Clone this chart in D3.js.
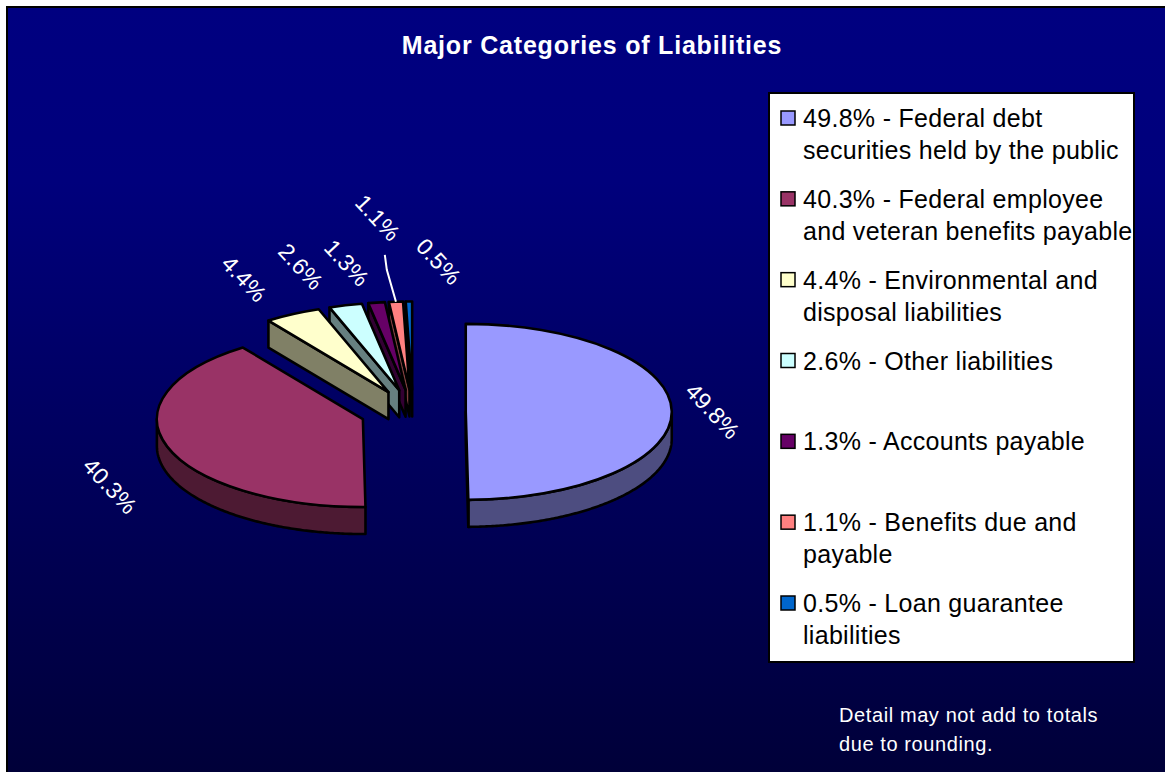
<!DOCTYPE html>
<html>
<head>
<meta charset="utf-8">
<script src="https://cdn.jsdelivr.net/npm/d3@7"></script>
<style>
  html, body { margin: 0; padding: 0; background: #fff; overflow: hidden; }
  text { font-family: "Liberation Sans", Arial, sans-serif; }
</style>
</head>
<body>
<svg id="chart" width="1165" height="772"></svg>
<script>
// data
const categories = ["Federal debt securities held by the public", "Federal employee and veteran benefits payable",
    "Environmental and disposal liabilities", "Other liabilities", "Accounts payable",
    "Benefits due and payable", "Loan guarantee liabilities"]
const percents = [49.8, 40.3, 4.4, 2.6, 1.3, 1.1, 0.5]
const legendLines = [
    ["49.8% - Federal debt", "securities held by the public"],
    ["40.3% - Federal employee", "and veteran benefits payable"],
    ["4.4% - Environmental and", "disposal liabilities"],
    ["2.6% - Other liabilities"],
    ["1.3% - Accounts payable"],
    ["1.1% - Benefits due and", "payable"],
    ["0.5% - Loan guarantee", "liabilities"]
]
const titleText = "Major Categories of Liabilities"
const noteLines = ["Detail may not add to totals", "due to rounding."]

const topColors = ["#9999ff", "#993366", "#ffffcc", "#ccffff", "#660066", "#ff8080", "#0066cc"]
const sideColors = ["#4d4d80", "#4d1a33", "#808066", "#668080", "#330033", "#804040", "#003366"]

const svg = d3.select("#chart")
const W = 1165, H = 772

const defs = svg.append("defs")
const grad = defs.append("linearGradient")
    .attr("id", "bg").attr("x1", 0).attr("y1", 0).attr("x2", 0).attr("y2", 1)
grad.append("stop").attr("offset", 0).attr("stop-color", "#000080")
grad.append("stop").attr("offset", 0.22).attr("stop-color", "#00007c")
grad.append("stop").attr("offset", 1).attr("stop-color", "#000036")

svg.append("rect")
    .attr("x", 7).attr("y", 7)
    .attr("width", W + 20).attr("height", H + 20)
    .attr("fill", "url(#bg)")
    .attr("stroke", "black")
    .attr("stroke-width", 2)

svg.append("text")
    .attr("x", 592).attr("y", 54)
    .attr("text-anchor", "middle")
    .attr("fill", "white")
    .style("font-size", "25px")
    .style("font-weight", "bold")
    .style("letter-spacing", "0.8px")
    .text(titleText)

// 3d pie
const cx0 = 413, cy0 = 412, rx = 206, ry = 88, depth = 27, explode = 0.256
const topColor = d3.scaleOrdinal().domain(categories).range(topColors)
const sideColor = d3.scaleOrdinal().domain(categories).range(sideColors)

const arcs = d3.pie().sort(null).value(d => d.v)(percents.map((v, i) => ({v: v, name: categories[i]})))

function center(d) {
    let m = (d.startAngle + d.endAngle) / 2
    return [cx0 + explode * rx * Math.sin(m), cy0 - explode * ry * Math.cos(m)]
}
function pt(c, a, dy) {
    return [c[0] + rx * Math.sin(a), c[1] - ry * Math.cos(a) + (dy || 0)]
}

const arcGen = d3.arc().innerRadius(0).outerRadius(rx)
const line = d3.line()

let pieG = svg.append("g").attr("class", "pie")

arcs.slice().sort((a, b) => center(a)[1] - center(b)[1])
    .forEach(d => {
        let c = center(d)
        let g = pieG.append("g")
        let sty = sel => sel.attr("stroke", "black").attr("stroke-width", 2.6).attr("stroke-linejoin", "round")

        // outer wall, front half only
        let a0 = Math.max(d.startAngle, Math.PI / 2), a1 = Math.min(d.endAngle, Math.PI * 1.5)
        if (a1 > a0) {
            let steps = d3.range(a0, a1, 0.01).concat([a1])
            let pts = steps.map(a => pt(c, a)).concat(steps.slice().reverse().map(a => pt(c, a, depth)))
            g.append("path")
                .attr("d", line(pts) + "Z")
                .attr("fill", sideColor(d.data.name))
                .call(sty)
        }
        // cut faces
        ;[[d.startAngle, Math.sin(d.startAngle) < -1e-6], [d.endAngle, Math.sin(d.endAngle) > 1e-6]]
            .forEach(([a, vis]) => {
                if (!vis) return
                let o = pt(c, a)
                g.append("path")
                    .attr("d", line([c, o, [o[0], o[1] + depth], [c[0], c[1] + depth]]) + "Z")
                    .attr("fill", sideColor(d.data.name))
                    .call(sty)
            })
        // top face
        g.append("path")
            .attr("d", arcGen(d))
            .attr("transform", "translate(" + c + ") scale(1," + (ry / rx) + ")")
            .attr("vector-effect", "non-scaling-stroke")
            .attr("fill", topColor(d.data.name))
            .call(sty)
    })

// data labels
const labels = arcs.map(d => {
    let m = (d.startAngle + d.endAngle) / 2, s = Math.sin(m), co = Math.cos(m)
    let c = center(d)
    return {
        d: d, m: m, c: c, raised: false,
        x: c[0] + (rx + 18) * s + (s < 0 ? -40 : 23),
        y: c[1] - (ry + 40) * co + (co < 0 ? depth : 0)
    }
})
// spread the crowded labels at the back
let crowd = labels.filter(l => l.y < cy0 - ry).sort((a, b) => a.x - b.x)
let prev = -Infinity, prevRaised = false
crowd.forEach(l => {
    let nx = Math.max(l.x, prev + 46)
    if (nx - l.x > 30 && !prevRaised) {
        l.raised = true
        l.x = nx - 15
        l.y -= 44
    } else {
        l.x = nx
    }
    prevRaised = l.raised
    prev = nx
})

labels.filter(l => l.raised).forEach(l => {
    let e = pt(l.c, l.m)
    svg.append("path")
        .attr("d", line([[l.x + 7, l.y + 37], [l.x + 9, l.y + 52], e]))
        .attr("fill", "none")
        .attr("stroke", "white")
        .attr("stroke-width", 2)
})

svg.append("g").selectAll("text")
    .data(labels)
    .enter().append("text")
    .attr("transform", l => "translate(" + l.x + "," + l.y + ") rotate(47)")
    .attr("text-anchor", "middle")
    .attr("dy", "0.35em")
    .attr("fill", "white")
    .style("font-size", "23px")
    .style("letter-spacing", "0.3px")
    .text(l => l.d.data.v.toFixed(1) + "%")

// legend
svg.append("rect")
    .attr("x", 769).attr("y", 93)
    .attr("width", 365).attr("height", 569)
    .attr("fill", "white")
    .attr("stroke", "black")
    .attr("stroke-width", 2)

const ly = d3.scaleLinear().domain([0, categories.length - 1]).range([127, 612])

let leg = svg.append("g").selectAll("g")
    .data(categories)
    .enter().append("g")
    .attr("transform", (d, i) => "translate(0," + ly(i) + ")")

leg.append("rect")
    .attr("x", 781).attr("y", -16)
    .attr("width", 14).attr("height", 14)
    .attr("fill", d => topColor(d))
    .attr("stroke", "black")
    .attr("stroke-width", 1.5)

leg.append("text")
    .attr("x", 803)
    .attr("fill", "black")
    .style("font-size", "25px")
    .style("letter-spacing", "0.3px")
    .selectAll("tspan")
    .data((d, i) => legendLines[i])
    .enter().append("tspan")
    .attr("x", 803)
    .attr("y", (t, j) => j * 32)
    .text(t => t)

svg.append("text")
    .attr("fill", "white")
    .style("font-size", "20px")
    .style("letter-spacing", "0.6px")
    .selectAll("tspan")
    .data(noteLines)
    .enter().append("tspan")
    .attr("x", 839)
    .attr("y", (t, j) => 722 + j * 29)
    .text(t => t)
</script>
</body>
</html>
